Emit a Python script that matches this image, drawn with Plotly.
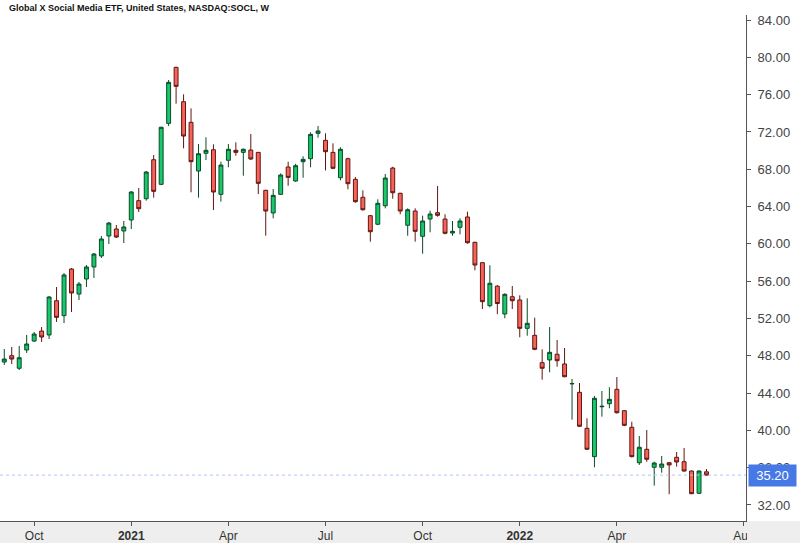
import pandas as pd
import plotly.graph_objects as go

# Weekly bars (Monday dated) for SOCL
week_start = "2020-09-07"
n_weeks = 95

opens = [47.33, 48.01, 46.66, 48.62, 49.58, 50.65, 50.23, 53.90, 52.30, 57.30,
         54.62, 56.23, 57.52, 58.70, 60.84, 61.59, 61.38, 62.56, 64.63, 64.84,
         69.02, 66.38, 72.92, 78.93, 75.24, 73.03, 67.81, 69.71, 70.09, 65.31,
         68.96, 70.03, 69.81, 70.06, 69.81, 65.74, 63.31, 65.31, 68.24, 66.74,
         68.81, 69.13, 71.85, 71.10, 69.81, 67.09, 69.13, 66.92, 64.99, 63.02,
         62.10, 64.09, 68.13, 65.42, 61.99, 63.52, 60.81, 62.66, 63.34, 62.66,
         61.16, 61.77, 62.88, 60.16, 57.98, 53.37, 55.46, 52.48, 54.33, 53.98,
         50.94, 50.19, 47.26, 47.55, 48.16, 47.12, 44.98, 44.08, 40.22, 37.18,
         42.53, 42.86, 44.40, 42.11, 40.33, 36.53, 37.97, 36.04, 36.04, 36.53,
         37.11, 36.64, 35.64, 33.25, 35.55]
highs = [48.72, 48.94, 49.05, 50.23, 50.55, 51.08, 54.41, 55.37, 56.87, 57.41,
         55.91, 57.73, 59.02, 60.84, 62.34, 62.02, 62.45, 65.67, 65.99, 67.81,
         69.53, 72.56, 77.57, 78.99, 76.03, 74.53, 70.70, 71.42, 70.67, 68.81,
         70.70, 70.89, 70.24, 71.78, 69.85, 65.80, 65.88, 67.56, 68.81, 68.59,
         69.39, 71.96, 72.63, 71.85, 70.78, 70.35, 69.24, 67.17, 65.74, 63.09,
         64.78, 67.49, 68.27, 65.48, 63.81, 63.81, 63.02, 63.55, 66.20, 63.17,
         62.45, 62.74, 63.45, 60.23, 58.02, 57.70, 55.59, 54.70, 55.48, 54.48,
         54.16, 52.08, 48.69, 51.08, 49.69, 48.83, 45.51, 45.08, 41.29, 43.69,
         44.22, 44.62, 45.72, 42.18, 40.93, 39.40, 40.04, 36.64, 37.25, 36.60,
         37.68, 38.11, 35.70, 35.70, 35.85]
lows = [47.01, 47.12, 46.47, 48.30, 49.48, 49.48, 49.80, 51.62, 51.51, 52.69,
        53.98, 55.37, 56.34, 58.48, 59.98, 60.63, 60.09, 61.59, 63.41, 64.63,
        64.95, 66.30, 72.63, 75.03, 70.24, 65.53, 64.95, 68.99, 63.63, 64.52,
        68.21, 69.45, 67.31, 68.99, 65.34, 60.87, 62.74, 65.25, 66.23, 66.66,
        67.09, 68.21, 71.38, 67.88, 68.00, 66.81, 65.85, 64.40, 63.55, 60.23,
        62.00, 63.81, 64.84, 63.17, 60.87, 60.23, 58.94, 61.24, 62.91, 61.02,
        60.87, 61.02, 60.01, 57.16, 53.01, 53.20, 52.46, 52.02, 53.01, 49.98,
        50.15, 48.60, 45.43, 46.23, 46.83, 45.70, 41.14, 40.35, 37.90, 36.04,
        41.47, 42.37, 41.80, 40.45, 37.10, 36.29, 36.64, 34.07, 35.46, 33.15,
        36.11, 35.57, 33.15, 33.20, 35.15]
closes = [47.65, 47.65, 47.79, 49.26, 50.33, 50.01, 54.30, 52.12, 56.66, 54.73,
          55.69, 57.52, 58.91, 60.52, 62.23, 60.73, 61.81, 65.56, 63.77, 67.70,
          65.63, 72.50, 77.32, 76.89, 71.56, 68.81, 69.66, 70.03, 65.56, 68.45,
          70.14, 69.81, 70.14, 69.10, 66.49, 63.52, 65.20, 67.38, 67.13, 68.38,
          69.06, 71.74, 72.10, 69.88, 68.10, 70.14, 66.45, 64.52, 63.66, 61.30,
          64.35, 67.06, 65.48, 63.52, 63.66, 61.34, 62.45, 63.20, 63.06, 61.13,
          61.34, 62.45, 60.12, 57.73, 53.80, 55.77, 53.60, 54.59, 53.90, 50.94,
          51.48, 48.69, 46.66, 48.37, 47.47, 45.75, 45.02, 40.44, 37.97, 43.44,
          42.58, 43.33, 41.89, 40.54, 37.18, 38.19, 36.90, 36.50, 36.39, 36.29,
          36.61, 35.64, 33.21, 35.64, 35.20]

last_price = 35.20

tick_dates = ["2020-10-05", "2021-01-04", "2021-04-05", "2021-07-05",
              "2021-10-04", "2022-01-03", "2022-04-04", "2022-08-01"]
tick_labels = ["Oct", "<b>2021</b>", "Apr", "Jul", "Oct", "<b>2022</b>", "Apr", "Aug"]
price_ticks = [32, 36, 40, 44, 48, 52, 56, 60, 64, 68, 72, 76, 80, 84]

dates = pd.date_range(start=week_start, periods=n_weeks, freq="7D")

fig = go.Figure()
fig.add_trace(go.Candlestick(
    x=dates, open=opens, high=highs, low=lows, close=closes,
    increasing=dict(fillcolor="#17c96a", line=dict(color="#0b4a28", width=1)),
    decreasing=dict(fillcolor="#fa6258", line=dict(color="#5e1712", width=1)),
    whiskerwidth=0, showlegend=False, hoverinfo="skip",
))

BAND = "#eeeeee"
fig.update_layout(
    width=800, height=543,
    margin=dict(l=0, r=54, t=15, b=22, pad=0),
    paper_bgcolor="white", plot_bgcolor="white",
    boxgap=0.25,
    font=dict(family="Liberation Sans, Arial, sans-serif", size=13, color="#333333"),
    xaxis=dict(
        type="date",
        range=["2020-09-03", "2022-08-03"],
        rangeslider=dict(visible=False),
        tickvals=tick_dates, ticktext=tick_labels,
        showgrid=False, zeroline=False,
        showline=True, linecolor="#555555", linewidth=1,
        ticks="outside", ticklen=4, tickcolor="#555555",
        tickfont=dict(size=12, color="#333333"),
    ),
    yaxis=dict(
        side="right",
        range=[30.28, 84.54],
        tickvals=price_ticks, tickformat=".2f",
        showgrid=False, zeroline=False,
        showline=True, linecolor="#555555", linewidth=1,
        ticks="outside", ticklen=4, tickcolor="#555555",
        ticklabelstandoff=4,
        tickfont=dict(size=13, color="#444444"),
    ),
    shapes=[
        dict(type="rect", xref="paper", yref="paper", x0=-0.1, x1=1.2, y0=-1, y1=0,
             fillcolor=BAND, line=dict(width=0), layer="below"),
        dict(type="line", xref="paper", yref="y", x0=0, x1=1.0, y0=last_price, y1=last_price,
             line=dict(color="#b0c6f4", width=1, dash="dot"), layer="above"),
        dict(type="rect", xref="paper", yref="paper", x0=1.0015, x1=1.2, y0=-1, y1=-0.0005,
             fillcolor=BAND, line=dict(width=0), layer="above"),
    ],
    annotations=[
        dict(text="<b>Global X Social Media ETF, United States, NASDAQ:SOCL, W</b>",
             xref="paper", yref="paper", x=0, y=1, xanchor="left", yanchor="middle",
             xshift=7, yshift=7, showarrow=False,
             font=dict(size=9, color="#111111", family="Liberation Sans, Arial, sans-serif")),
        dict(text="35.20", xref="paper", yref="y", x=1, y=last_price,
             xanchor="left", yanchor="middle", xshift=2, showarrow=False,
             bgcolor="#4678e6", borderpad=2, width=43, height=17, align="center",
             font=dict(size=13, color="white")),
    ],
)

fig.write_html("out.html")
